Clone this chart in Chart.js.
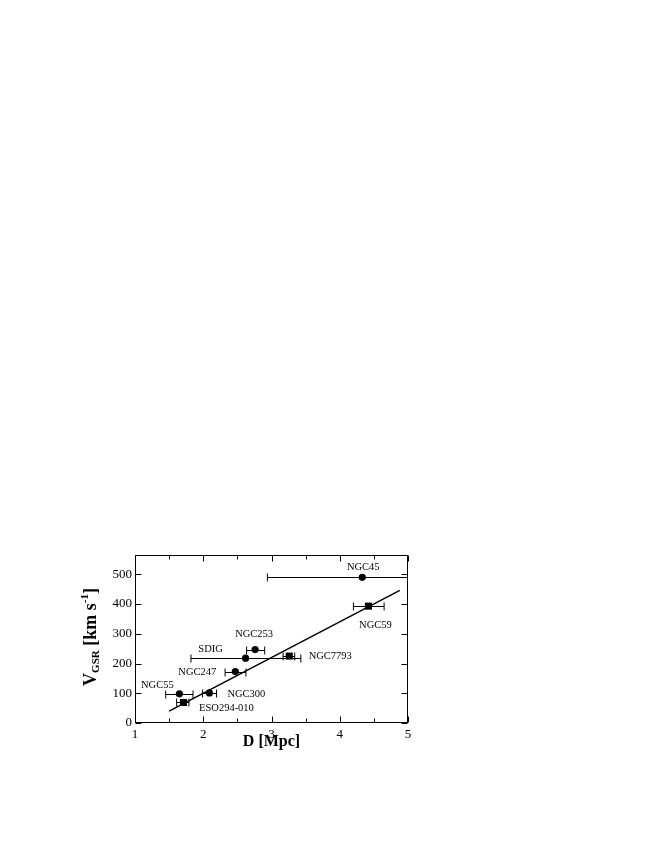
<!DOCTYPE html>
<html>
<head>
<meta charset="utf-8">
<style>
html,body{margin:0;padding:0;background:#fff;}
#wrap{position:absolute;left:0;top:0;width:654px;height:846px;}
</style>
<script src="https://cdn.jsdelivr.net/npm/chart.js@4.4.0/dist/chart.umd.min.js"></script>
</head>
<body>
<div id="wrap"><canvas id="c" width="654" height="846"></canvas></div>
<script>
// ---- data ----
const galaxyNames = ['NGC45','NGC59','NGC253','SDIG','NGC7793','NGC247','NGC55','NGC300','ESO294-010'];
const distance    = [4.33, 4.42, 2.76, 2.62, 3.26, 2.47, 1.65, 2.09, 1.71];
const velocity    = [490, 393, 247, 218, 225, 173, 98, 101, 69];
const distLow     = [2.94, 4.20, 2.635, 1.82, 3.17, 2.32, 1.45, 1.99, 1.61];
const distHigh    = [5.70, 4.65, 2.90, 3.43, 3.34, 2.625, 1.85, 2.195, 1.79];
const markerKind  = ['circle','square','circle','circle','square','circle','circle','circle','square'];
const fitLineX    = [1.50, 4.88];
const fitLineY    = [40, 446];
const xTickValues = [1, 2, 3, 4, 5];
const xMinorTicks = [1.5, 2.5, 3.5, 4.5];
const yTickValues = [0, 100, 200, 300, 400, 500];

// label placement offsets in pixels relative to each point (style, not data)
const labelOffsets = {
  'NGC45':[1,-10], 'NGC59':[7,19], 'NGC253':[-1,-15], 'SDIG':[-35,-9],
  'NGC7793':[41,0], 'NGC247':[-38,1], 'NGC55':[-22,-9], 'NGC300':[37,1], 'ESO294-010':[43,6]
};

const circlePts = [], squarePts = [];
galaxyNames.forEach((n,i)=>{
  const p = {x: distance[i], y: velocity[i], i: i};
  (markerKind[i]==='square' ? squarePts : circlePts).push(p);
});
const linePts = fitLineX.map((x,i)=>({x:x, y:fitLineY[i]}));

const SERIF = '"Liberation Serif","DejaVu Serif","Times New Roman",serif';

const decor = {
  id:'decor',
  beforeDatasetsDraw(chart){
    const {ctx, chartArea:a, scales:{x,y}} = chart;
    ctx.save();
    ctx.beginPath(); ctx.rect(a.left, a.top, a.right-a.left, a.bottom-a.top); ctx.clip();
    ctx.strokeStyle='#000'; ctx.lineWidth=1;
    galaxyNames.forEach((n,i)=>{
      const py = Math.round(y.getPixelForValue(velocity[i]))+0.5;
      const x0 = x.getPixelForValue(distLow[i]);
      const x1 = x.getPixelForValue(distHigh[i]);
      ctx.beginPath();
      ctx.moveTo(x0,py); ctx.lineTo(x1,py);
      ctx.moveTo(x0,py-4); ctx.lineTo(x0,py+4);
      ctx.moveTo(x1,py-4); ctx.lineTo(x1,py+4);
      ctx.stroke();
    });
    ctx.restore();
  },
  afterDraw(chart){
    const {ctx, chartArea:a, scales:{x,y}} = chart;
    ctx.save();
    ctx.strokeStyle='#000'; ctx.lineWidth=1;
    const L=Math.round(a.left)+0.5, R=Math.round(a.right)-0.5, T=Math.round(a.top)+0.5, B=Math.round(a.bottom)-0.5;
    ctx.strokeRect(L, T, R-L, B-T);
    ctx.beginPath();
    const tick=(v,len)=>{
      const px=Math.round(x.getPixelForValue(v))+0.5;
      ctx.moveTo(px,B); ctx.lineTo(px,B-len);
      ctx.moveTo(px,T); ctx.lineTo(px,T+len);
    };
    xTickValues.forEach(v=>tick(v,6));
    xMinorTicks.forEach(v=>tick(v,4));
    yTickValues.forEach(v=>{
      const py=Math.round(y.getPixelForValue(v))+0.5;
      ctx.moveTo(L,py); ctx.lineTo(L+6,py);
      ctx.moveTo(R,py); ctx.lineTo(R-6,py);
    });
    ctx.stroke();

    // point labels
    ctx.fillStyle='#000';
    ctx.font='10.5px '+SERIF;
    ctx.textAlign='center'; ctx.textBaseline='middle';
    galaxyNames.forEach((n,i)=>{
      const off=labelOffsets[n];
      ctx.fillText(n, x.getPixelForValue(distance[i])+off[0], y.getPixelForValue(velocity[i])+off[1]);
    });

    // x title
    ctx.font='bold 16px '+SERIF;
    ctx.textAlign='center'; ctx.textBaseline='alphabetic';
    ctx.fillText('D [Mpc]', (a.left+a.right)/2, 746);

    // y title with sub/superscripts
    const parts=[
      {t:'V', f:'bold 18px ', dy:0},
      {t:'GSR', f:'bold 11px ', dy:3},
      {t:' [km s', f:'bold 18px ', dy:0},
      {t:'-1', f:'bold 11px ', dy:-8},
      {t:']', f:'bold 18px ', dy:0}
    ];
    let total=0;
    parts.forEach(p=>{ctx.font=p.f+SERIF; p.w=ctx.measureText(p.t).width; total+=p.w;});
    ctx.translate(96, 637);
    ctx.rotate(-Math.PI/2);
    let cx=-total/2;
    ctx.textAlign='left';
    parts.forEach(p=>{ctx.font=p.f+SERIF; ctx.fillText(p.t, cx, p.dy); cx+=p.w;});
    ctx.restore();
  }
};

new Chart(document.getElementById('c'), {
  type:'scatter',
  data:{datasets:[
    {data:circlePts, pointStyle:'circle', pointRadius:3.6, backgroundColor:'#000', borderColor:'#000', borderWidth:0, order:1},
    {data:squarePts, pointStyle:'rect', pointRadius:5, backgroundColor:'#000', borderColor:'#000', borderWidth:0, order:1},
    {data:linePts, showLine:true, pointRadius:0, borderColor:'#000', borderWidth:1.5, order:2}
  ]},
  options:{
    responsive:false, animation:false, devicePixelRatio:1,
    layout:{padding:{left:90, right:246, top:555, bottom:78}},
    plugins:{legend:{display:false}, tooltip:{enabled:false}},
    scales:{
      x:{type:'linear', min:1, max:5,
        afterBuildTicks:s=>{s.ticks=xTickValues.map(v=>({value:v}));},
        afterFit:s=>{s.height=45;},
        grid:{display:false, drawTicks:false}, border:{display:false},
        ticks:{font:{family:SERIF, size:13}, color:'#000', padding:4, maxRotation:0}
      },
      y:{type:'linear', min:0, max:565,
        afterBuildTicks:s=>{s.ticks=yTickValues.map(v=>({value:v}));},
        afterFit:s=>{s.width=45;},
        grid:{display:false, drawTicks:false}, border:{display:false},
        ticks:{font:{family:SERIF, size:13}, color:'#000', padding:3}
      }
    }
  },
  plugins:[decor]
});
</script>
</body>
</html>
